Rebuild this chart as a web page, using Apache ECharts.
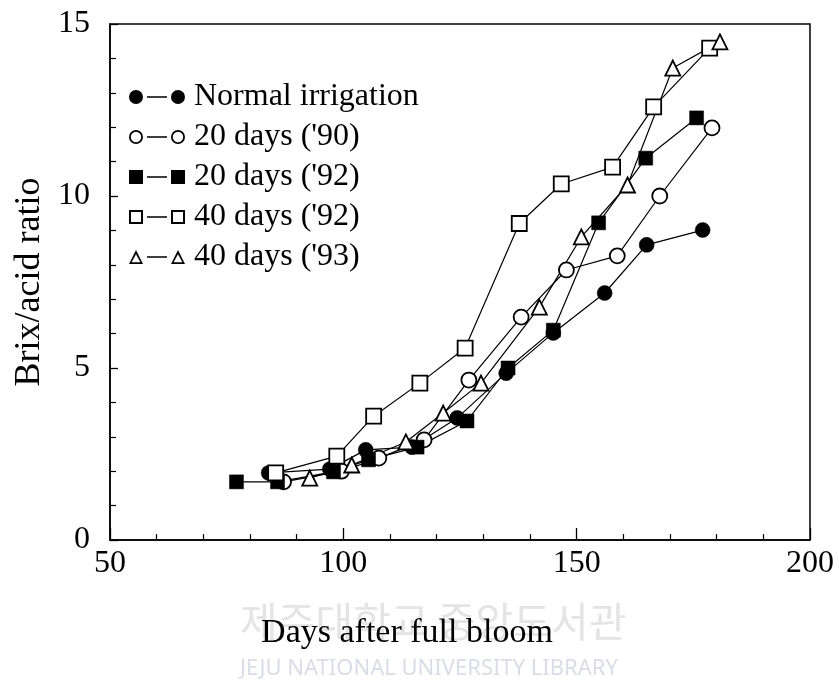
<!DOCTYPE html>
<html>
<head>
<meta charset="utf-8">
<script src="https://cdn.jsdelivr.net/npm/echarts@6/dist/echarts.min.js"></script>
<style>
  html, body { margin: 0; padding: 0; background: #fff; }
  #chart { width: 839px; height: 686px; }
</style>
</head>
<body>
<div id="chart"></div>
<script>
// ---- Data ----
const seriesNames = ['Normal irrigation', "20 days ('90)", "20 days ('92)", "40 days ('92)", "40 days ('93)"];

const normalDays  = [84.0, 97.1, 104.8, 114.7, 124.4, 134.9, 145.0, 156.0, 165.0, 177.0];
const normalRatio = [1.95, 2.06, 2.62, 2.70, 3.55, 4.85, 6.02, 7.18, 8.58, 9.01];

const d20y90Days  = [87.2, 99.6, 107.6, 117.3, 126.9, 138.1, 147.8, 158.7, 167.8, 179.0];
const d20y90Ratio = [1.69, 2.00, 2.38, 2.91, 4.65, 6.48, 7.85, 8.26, 10.00, 11.98];

const d20y92Days  = [77.1, 85.9, 97.9, 105.4, 115.8, 126.5, 135.3, 145.0, 154.7, 164.8, 175.7];
const d20y92Ratio = [1.69, 1.69, 1.98, 2.33, 2.70, 3.46, 5.00, 6.10, 9.22, 11.10, 12.27];

const d40y92Days  = [85.5, 98.6, 106.5, 116.4, 126.1, 137.7, 146.7, 157.7, 166.5, 178.5];
const d40y92Ratio = [1.95, 2.44, 3.60, 4.56, 5.58, 9.20, 10.35, 10.84, 12.59, 14.30];

const d40y93Days  = [92.8, 101.8, 113.4, 121.4, 129.5, 142.0, 151.0, 160.9, 170.6, 180.7];
const d40y93Ratio = [1.80, 2.18, 2.85, 3.69, 4.56, 6.77, 8.81, 10.32, 13.72, 14.48];

const xTicks = [50, 100, 150, 200];
const yTicks = [0, 5, 10, 15];

// ---- helpers ----
function zip(xs, ys) { return xs.map((x, i) => [x, ys[i]]); }

const FONT = '"Liberation Serif", "Times New Roman", serif';
const line = 'M18,6.3 H38 V7.7 H18 Z';
function circ(cx, r, rev) {
  const s = rev ? 0 : 1;
  return `M${cx - r},7 A${r},${r} 0 1,${s} ${cx + r},7 A${r},${r} 0 1,${s} ${cx - r},7 Z `;
}
const icons = {
  fillCircle: 'path://' + circ(7, 7) + line + ' ' + circ(49, 7),
  openCircle: 'path://' + circ(7, 7) + circ(7, 5.2, true) + line + ' ' + circ(49, 7) + circ(49, 5.2, true),
  fillSquare: 'path://M0,0 H14 V14 H0 Z ' + line + ' M42,0 H56 V14 H42 Z',
  openSquare: 'path://M0,0 H14 V14 H0 Z M2,2 V12 H12 V2 Z ' + line + ' M42,0 H56 V14 H42 Z M44,2 V12 H54 V2 Z',
  openTri: 'path://M7,0 L14,14 L0,14 Z M7,4.2 L2.6,12.3 L11.4,12.3 Z ' + line + ' M49,0 L56,14 L42,14 Z M49,4.2 L44.6,12.3 L53.4,12.3 Z'
};

function mkSeries(name, data, symbol, size, filled) {
  return {
    name: name,
    type: 'line',
    data: data,
    symbol: symbol,
    symbolSize: size,
    showAllSymbol: true,
    lineStyle: { color: '#000', width: 1.2 },
    itemStyle: filled
      ? { color: '#000', borderColor: '#000', borderWidth: 0.5 }
      : { color: '#fff', borderColor: '#000', borderWidth: 1.8 },
    emphasis: { disabled: true },
    animation: false
  };
}

const chart = echarts.init(document.getElementById('chart'), null, { renderer: 'canvas' });

const option = {
  backgroundColor: '#fff',
  animation: false,
  grid: {
    left: 110, right: 29, top: 24, bottom: 146,
    show: true, borderColor: '#000', borderWidth: 1.5, backgroundColor: 'transparent'
  },
  legend: {
    orient: 'vertical',
    left: 124,
    top: 76,
    itemWidth: 56,
    itemHeight: 14,
    itemGap: 8,
    selectedMode: false,
    itemStyle: { color: '#000', borderWidth: 0 },
    textStyle: { fontFamily: FONT, fontSize: 32, lineHeight: 32, color: '#000', padding: [0, 0, 0, 4] },
    data: [
      { name: seriesNames[0], icon: icons.fillCircle },
      { name: seriesNames[1], icon: icons.openCircle },
      { name: seriesNames[2], icon: icons.fillSquare },
      { name: seriesNames[3], icon: icons.openSquare },
      { name: seriesNames[4], icon: icons.openTri }
    ]
  },
  xAxis: {
    type: 'value',
    min: xTicks[0], max: xTicks[xTicks.length - 1], interval: 50,
    name: 'Days after full bloom',
    nameLocation: 'middle',
    nameGap: 76,
    nameTextStyle: { fontFamily: FONT, fontSize: 34, color: '#000', padding: [0, 106, 0, 0] },
    axisLine: { show: true, lineStyle: { color: '#000', width: 1.5 } },
    axisTick: { show: true, inside: true, length: 12, lineStyle: { color: '#000', width: 1.3 } },
    minorTick: { show: true, splitNumber: 5, length: 6, lineStyle: { color: '#000', width: 1.2 } },
    splitLine: { show: false },
    axisLabel: { fontFamily: FONT, fontSize: 32, color: '#000', margin: 8 }
  },
  yAxis: {
    type: 'value',
    min: yTicks[0], max: yTicks[yTicks.length - 1], interval: 5,
    name: 'Brix/acid ratio',
    nameLocation: 'middle',
    nameGap: 62,
    nameTextStyle: { fontFamily: FONT, fontSize: 36, color: '#000' },
    axisLine: { show: true, lineStyle: { color: '#000', width: 1.5 } },
    axisTick: { show: true, inside: true, length: 8, lineStyle: { color: '#000', width: 1.3 } },
    minorTick: { show: true, splitNumber: 5, length: 6, lineStyle: { color: '#000', width: 1.2 } },
    splitLine: { show: false },
    axisLabel: { fontFamily: FONT, fontSize: 32, color: '#000', margin: 20 }
  },
  graphic: [
    {
      type: 'text', left: 240, top: 601, z: -10, silent: true,
      style: { text: '제주대학교 중앙도서관', fill: '#e4e4e4', font: '41px "Noto Sans CJK KR", sans-serif' }
    },
    {
      type: 'text', left: 240, top: 658, z: -10, silent: true,
      style: { text: 'JEJU NATIONAL UNIVERSITY LIBRARY', fill: '#d9dee6', font: '22px "Noto Sans", sans-serif' }
    }
  ],
  series: [
    mkSeries(seriesNames[0], zip(normalDays, normalRatio), 'circle', 15, true),
    mkSeries(seriesNames[1], zip(d20y90Days, d20y90Ratio), 'circle', 15, false),
    mkSeries(seriesNames[2], zip(d20y92Days, d20y92Ratio), 'rect', 14, true),
    mkSeries(seriesNames[3], zip(d40y92Days, d40y92Ratio), 'rect', 15, false),
    mkSeries(seriesNames[4], zip(d40y93Days, d40y93Ratio), 'triangle', 15, false)
  ]
};

chart.setOption(option);
</script>
</body>
</html>
